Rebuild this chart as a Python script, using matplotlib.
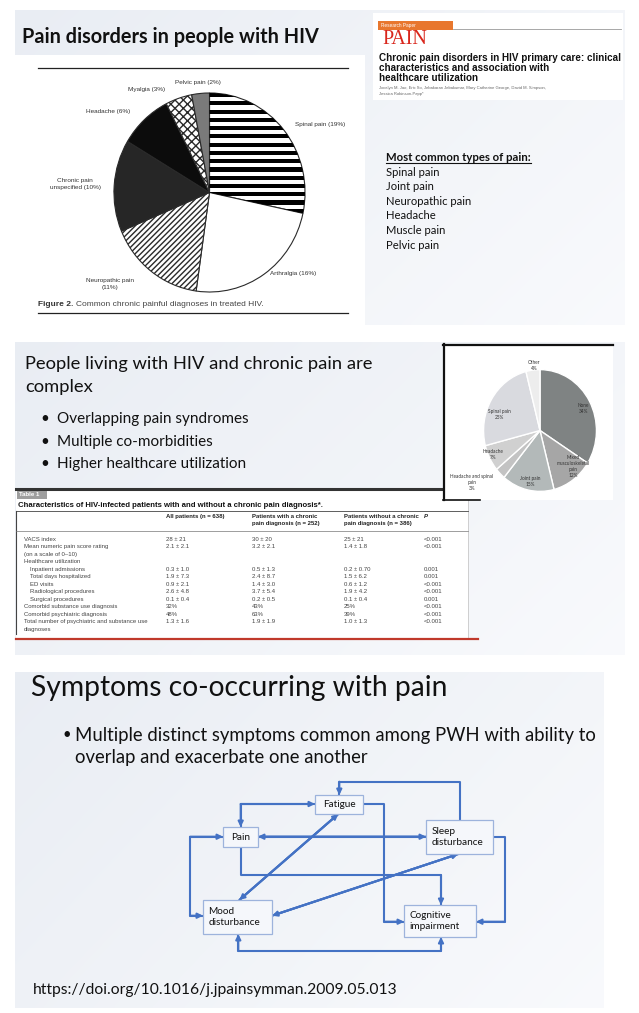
import numpy as np
import matplotlib.pyplot as plt
from matplotlib.patches import Rectangle, FancyArrowPatch

W, H = 639, 1013

# ---- data: top pie (Figure 2 of the PAIN paper)
pie1_labels = ["Spinal pain (19%)", "Arthralgia (16%)", "Neuropathic pain\n(11%)",
               "Chronic pain\nunspecified (10%)", "Headache (6%)", "Myalgia (3%)",
               "Pelvic pain (2%)"]
pie1_values = [19, 16, 11, 10, 6, 3, 2]

# ---- data: small pie
pie2_labels = ["None\n34%", "Mixed\nmusculoskeletal\npain\n12%", "Joint pain\n15%",
               "Headache and spinal\npain\n3%", "Headache\n7%", "Spinal pain\n25%",
               "Other\n4%"]
pie2_values = [34, 12, 15, 3, 7, 25, 4]

# ---- data: table 1
tab_header = ["All patients (n = 638)", "Patients with a chronic\npain diagnosis (n = 252)",
              "Patients without a chronic\npain diagnosis (n = 386)", "P"]
tab_rows = ["VACS index", "Mean numeric pain score rating", "(on a scale of 0\u201310)",
            "Healthcare utilization", "Inpatient admissions", "Total days hospitalized",
            "ED visits", "Radiological procedures", "Surgical procedures",
            "Comorbid substance use diagnosis", "Comorbid psychiatric diagnosis",
            "Total number of psychiatric and substance use", "diagnoses"]
tab_indent = [0, 0, 0, 0, 1, 1, 1, 1, 1, 0, 0, 0, 0]
tab_all = ["28 \u00b1 21", "2.1 \u00b1 2.1", "", "", "0.3 \u00b1 1.0", "1.9 \u00b1 7.3",
           "0.9 \u00b1 2.1", "2.6 \u00b1 4.8", "0.1 \u00b1 0.4", "32%", "48%", "1.3 \u00b1 1.6", ""]
tab_with = ["30 \u00b1 20", "3.2 \u00b1 2.1", "", "", "0.5 \u00b1 1.3", "2.4 \u00b1 8.7",
            "1.4 \u00b1 3.0", "3.7 \u00b1 5.4", "0.2 \u00b1 0.5", "43%", "63%", "1.9 \u00b1 1.9", ""]
tab_without = ["25 \u00b1 21", "1.4 \u00b1 1.8", "", "", "0.2 \u00b1 0.70", "1.5 \u00b1 6.2",
               "0.6 \u00b1 1.2", "1.9 \u00b1 4.2", "0.1 \u00b1 0.4", "25%", "39%", "1.0 \u00b1 1.3", ""]
tab_p = ["<0.001", "<0.001", "", "", "0.001", "0.001", "<0.001", "<0.001", "0.001",
         "<0.001", "<0.001", "<0.001", ""]

pain_types = ["Spinal pain", "Joint pain", "Neuropathic pain", "Headache", "Muscle pain", "Pelvic pain"]
complex_bullets = ["Overlapping pain syndromes", "Multiple co-morbidities", "Higher healthcare utilization"]

# ---- diagram layout (pixel boxes: x0, y0, x1, y1)
nodes = {
    "Fatigue": (315, 795, 363, 814),
    "Pain": (223, 827, 258, 847),
    "Sleep\ndisturbance": (426, 820, 493, 854),
    "Mood\ndisturbance": (203, 900, 272, 934),
    "Cognitive\nimpairment": (404, 905, 476, 937),
}
links = [  # polyline, arrow at start, arrow at end
    ([(240.7, 827), (240.7, 804), (315, 804)], True, True),
    ([(363, 804), (384, 804), (384, 921.7), (404, 921.7)], False, True),
    ([(460, 820), (460, 781.7), (339.3, 781.7), (339.3, 795)], False, True),
    ([(258, 836.7), (426, 836.7)], True, True),
    ([(493, 836.7), (505, 836.7), (505, 921.7), (476, 921.7)], False, True),
    ([(223, 836.7), (190, 836.7), (190, 915.7), (203, 915.7)], True, True),
    ([(240.7, 847), (240.7, 875), (441, 875), (441, 905)], False, True),
    ([(239.3, 900), (338.3, 814)], True, True),
    ([(272, 915.7), (458.3, 854)], True, True),
    ([(238.3, 934), (238.3, 951), (441, 951), (441, 937)], True, True),
]

SANS = ["Lato", "DejaVu Sans"]
ARIAL = ["Liberation Sans", "DejaVu Sans"]

fig = plt.figure(figsize=(W / 100, H / 100), dpi=100)
ax = fig.add_axes([0, 0, 1, 1])
renderer = fig.canvas.get_renderer()


def px_axes(x0, y0, x1, y1):
    return fig.add_axes([x0 / W, 1 - y1 / H, (x1 - x0) / W, (y1 - y0) / H])


def fit(t, width):
    w = t.get_window_extent(renderer).width
    t.set_fontsize(t.get_fontsize() * width / w)
    return t


def slide(x0, y0, x1, y1):
    gx = np.linspace(0, 1, 200)
    gy = np.linspace(0, 1, 100)
    g = 0.65 * gx[None, :] + 0.35 * gy[:, None]
    c0 = np.array([0.915, 0.93, 0.955])
    c1 = np.array([0.975, 0.98, 0.99])
    img = c0 + (c1 - c0) * g[..., None]
    ax.imshow(img, extent=(x0, x1, y1, y0), aspect="auto", zorder=0, interpolation="bilinear")


# ================= panel 1 =================
slide(15, 10, 625, 325)
fit(ax.text(22, 37, "Pain disorders in people with HIV", fontsize=13, fontweight="bold",
            family=SANS, va="center", color="#111"), 296)
ax.add_patch(Rectangle((15, 55), 350, 270, facecolor="white", edgecolor="none", zorder=1))
ax.plot([38, 348], [68, 68], color="#222", lw=0.9, zorder=2)
ax.plot([38, 348], [313, 313], color="#222", lw=0.9, zorder=2)
cap = ax.text(38, 304, "Figure 2.", fontsize=6, fontweight="bold", family=ARIAL, va="center",
              color="#333", zorder=3)
cap_w = cap.get_window_extent(renderer).width
ax.text(38 + cap_w + 2.5, 304, "Common chronic painful diagnoses in treated HIV.", fontsize=6,
        family=ARIAL, va="center", color="#444", zorder=3)

pax = px_axes(113, 92, 306, 293)
pie1_colors = ["white", "white", "white", "#262626", "#0c0c0c", "white", "#7a7a7a"]
wedges, _ = pax.pie(pie1_values, startangle=90, counterclock=False, colors=pie1_colors,
                    wedgeprops=dict(edgecolor="#2a2a2a", linewidth=0.8))
wedges[2].set_hatch("//////")
wedges[5].set_hatch("xxxx")
for yy in np.arange(1.0, -1.0, -0.083):
    r = Rectangle((-1.1, yy - 0.042), 2.2, 0.042, facecolor="black", lw=0)
    pax.add_patch(r)
    r.set_clip_path(wedges[0])
pax.set_xlim(-1.01, 1.01)
pax.set_ylim(-1.01, 1.01)
pax.set_aspect("auto")
pax.axis("off")

pie1_pos = [(320, 124), (293, 273), (110, 284), (75, 184), (108, 111), (147, 89), (198, 82)]
for lab, (x, y) in zip(pie1_labels, pie1_pos):
    ax.text(x, y, lab, fontsize=4.6, family=ARIAL, ha="center", va="center", color="#333",
            linespacing=1.5, zorder=3)

# paper header box
ax.add_patch(Rectangle((373, 13), 250, 87, facecolor="white", edgecolor="none", zorder=1))
ax.add_patch(Rectangle((378, 21), 75, 8.5, facecolor="#e8772e", edgecolor="none", zorder=2))
ax.text(381, 25.5, "Research Paper", fontsize=3.4, family=ARIAL, color="white", va="center", zorder=3)
ax.plot([453, 621], [29, 29], color="#999", lw=0.6, zorder=2)
fit(ax.text(382, 39, "PAIN", fontsize=12, family=["Liberation Serif", "DejaVu Serif"],
            color="#d9261c", va="center", zorder=3), 45)
hdr = ["Chronic pain disorders in HIV primary care: clinical", "characteristics and association with",
       "healthcare utilization"]
t = fit(ax.text(379, 58, hdr[0], fontsize=7, fontweight="bold", family=ARIAL, va="center",
                color="#111", zorder=3), 241)
for i, s in enumerate(hdr[1:]):
    ax.text(379, 68 + 10 * i, s, fontsize=t.get_fontsize(), fontweight="bold", family=ARIAL,
            va="center", color="#111", zorder=3)
ax.text(379, 88, "Jocelyn M. Jao, Eric So, Jebakaran Jebakumar, Mary Catherine George, David M. Simpson,",
        fontsize=3.0, family=ARIAL, color="#666", va="center", zorder=3)
ax.text(379, 93.5, "Jessica Robinson-Papp*", fontsize=3.0, family=ARIAL, color="#666",
        va="center", zorder=3)

t = fit(ax.text(386, 157, "Most common types of pain:", fontsize=8, fontweight="bold",
                family=SANS, va="center", color="#111"), 145)
ax.plot([386, 531], [163, 163], color="#111", lw=0.8)
for i, s in enumerate(pain_types):
    ax.text(386, 172 + 14.6 * i, s, fontsize=t.get_fontsize() * 0.99, family=SANS,
            va="center", color="#111")

# ================= panel 2 =================
slide(15, 342, 625, 655)
t = fit(ax.text(25, 364, "People living with HIV and chronic pain are", fontsize=13,
                family=SANS, va="center", color="#111"), 346)
ax.text(25, 387, "complex", fontsize=t.get_fontsize(), family=SANS, va="center", color="#111")
fs = None
for i, s in enumerate(complex_bullets):
    tt = ax.text(57, 419 + 22.5 * i, s, fontsize=10, family=SANS, va="center", color="#111")
    if i == 0:
        fit(tt, 192)
        fs = tt.get_fontsize()
    tt.set_fontsize(fs)
    ax.text(40, 419 + 22.5 * i, "\u2022", fontsize=fs, family=SANS, va="center", color="#111")

# table
ax.add_patch(Rectangle((16, 488), 452, 150, facecolor="white", edgecolor="none", zorder=2))
ax.plot([468, 468], [488, 638], color="#c8c8c8", lw=0.6, zorder=3)
ax.plot([16, 16], [511, 634], color="#444", lw=0.8, zorder=3)
ax.plot([16, 478], [489, 489], color="#333", lw=2.2, zorder=3)
ax.plot([16, 478], [638.5, 638.5], color="#c0392b", lw=1.6, zorder=3)
ax.add_patch(Rectangle((17, 491), 30, 7.5, facecolor="#9e9e9e", edgecolor="none", zorder=3))
ax.text(19, 494.9, "Table 1", fontsize=4.4, fontweight="bold", family=ARIAL, color="white",
        va="center", zorder=4)
fit(ax.text(18, 505, "Characteristics of HIV-infected patients with and without a chronic pain diagnosis*.",
            fontsize=5, fontweight="bold", family=ARIAL, va="center", color="#111", zorder=4), 312)
ax.plot([16, 468], [511, 511], color="#444", lw=0.6, zorder=3)
ax.plot([16, 468], [531, 531], color="#777", lw=0.5, zorder=3)
col_x = [166, 252, 344, 424]
for x, s in zip(col_x, tab_header):
    ax.text(x, 513.5, s, fontsize=4.3, fontweight="bold", family=ARIAL, va="top",
            color="#222", linespacing=1.5, zorder=4,
            style="italic" if s == "P" else "normal")
for i, lab in enumerate(tab_rows):
    y = 539 + 7.5 * i
    ax.text(24 + 6 * tab_indent[i], y, lab, fontsize=4.3, family=ARIAL, va="center",
            color="#444", zorder=4)
    for x, col in zip(col_x, [tab_all, tab_with, tab_without, tab_p]):
        ax.text(x, y, col[i], fontsize=4.3, family=ARIAL, va="center", color="#444", zorder=4)

# small pie box
ax.add_patch(Rectangle((443, 344), 170, 156, facecolor="white", edgecolor="none", zorder=5))
ax.plot([443, 613], [344.5, 344.5], color="#111", lw=1.6, zorder=6)
ax.plot([443.5, 443.5], [344, 500], color="#111", lw=1.6, zorder=6)
ax.plot([443, 480], [500, 500], color="#111", lw=1.2, zorder=6)

pax2 = px_axes(483, 369, 597, 492)
pie2_colors = ["#7f8383", "#a6a6a6", "#b3b9b9", "#c3c3c3", "#d0d0d0", "#d9dadf", "#ededed"]
pax2.pie(pie2_values, startangle=90, counterclock=False, colors=pie2_colors,
         wedgeprops=dict(edgecolor="white", linewidth=1))
pax2.set_xlim(-1.01, 1.01)
pax2.set_ylim(-1.01, 1.01)
pax2.set_aspect("auto")
pax2.axis("off")
pie2_pos = [(583, 408), (573, 466), (530, 481), (472, 482), (493, 454), (499, 414), (534, 365)]
for lab, (x, y) in zip(pie2_labels, pie2_pos):
    pax2.text(x, y, lab, transform=ax.transData, fontsize=3.4, family=SANS, ha="center",
              va="center", color="#333", linespacing=1.25, clip_on=False)

# ================= panel 3 =================
slide(15, 672, 604, 1008)
fit(ax.text(31, 688, "Symptoms co-occurring with pain", fontsize=17, family=SANS,
            va="center", color="#111"), 415)
t = fit(ax.text(75, 735, "Multiple distinct symptoms common among PWH with ability to",
                fontsize=11, family=SANS, va="center", color="#111"), 521)
ax.text(75, 757, "overlap and exacerbate one another", fontsize=t.get_fontsize(), family=SANS,
        va="center", color="#111")
ax.text(62, 735, "\u2022", fontsize=t.get_fontsize() * 0.8, family=SANS, va="center", color="#111")

BLUE = "#4472c4"
for pts, a0, a1 in links:
    xs = [p[0] for p in pts]
    ys = [p[1] for p in pts]
    ax.plot(xs, ys, color=BLUE, lw=1.5, solid_capstyle="butt", zorder=3)
    if a1:
        ax.add_patch(FancyArrowPatch(pts[-2], pts[-1], arrowstyle="-|>", mutation_scale=7.5,
                                     color=BLUE, lw=1.5, shrinkA=0, shrinkB=0, zorder=4))
    if a0:
        ax.add_patch(FancyArrowPatch(pts[1], pts[0], arrowstyle="-|>", mutation_scale=7.5,
                                     color=BLUE, lw=1.5, shrinkA=0, shrinkB=0, zorder=4))

for name, (x0, y0, x1, y1) in nodes.items():
    ax.add_patch(Rectangle((x0, y0), x1 - x0, y1 - y0, facecolor="#f5f7fb",
                           edgecolor="#9db3dc", lw=0.9, zorder=5))
    if "\n" in name:
        ax.text(x0 + 5.5, (y0 + y1) / 2, name, fontsize=7.2, family=SANS, va="center",
                ha="left", color="#111", linespacing=1.35, zorder=6)
    else:
        ax.text((x0 + x1) / 2, (y0 + y1) / 2, name, fontsize=7.2, family=SANS, va="center",
                ha="center", color="#111", zorder=6)

fit(ax.text(33, 990, "https://doi.org/10.1016/j.jpainsymman.2009.05.013", fontsize=10,
            family=SANS, va="center", color="#111"), 365)

ax.set_xlim(0, W)
ax.set_ylim(H, 0)
ax.axis("off")
fig.savefig("out.png", dpi=100, facecolor="white")
